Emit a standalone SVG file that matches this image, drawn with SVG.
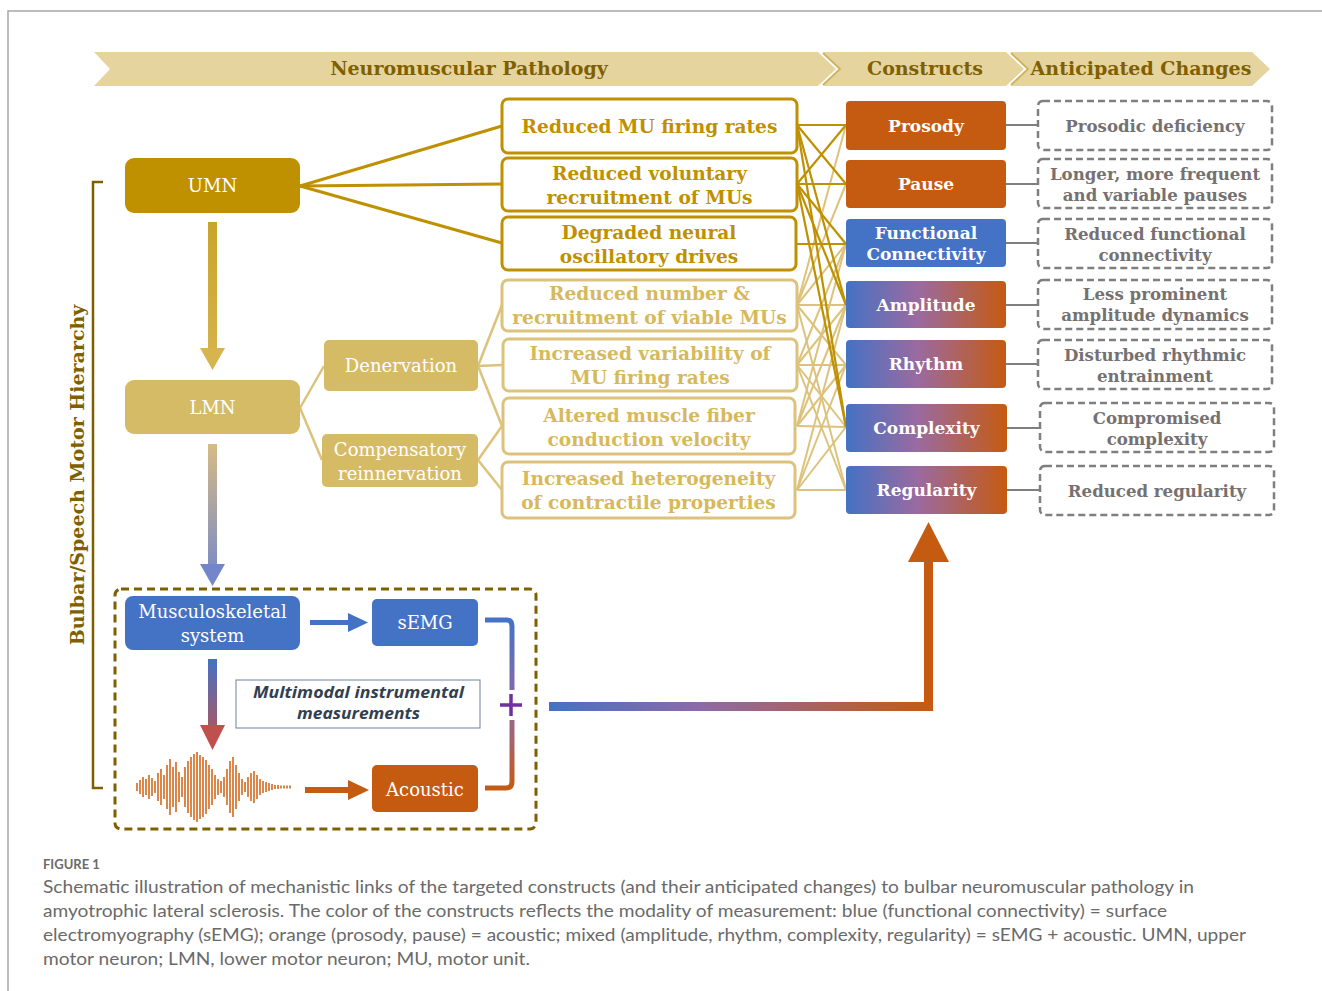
<svg xmlns="http://www.w3.org/2000/svg" width="1322" height="991" viewBox="0 0 1322 991">
<defs>
<style>
.hdr{font-family:"DejaVu Serif","Liberation Serif",serif;font-weight:bold;font-size:19px;fill:#7f6000;text-anchor:middle}
.pd{font-family:"DejaVu Serif","Liberation Serif",serif;font-weight:bold;font-size:18.6px;fill:#bf9000;text-anchor:middle}
.pl{font-family:"DejaVu Serif","Liberation Serif",serif;font-weight:bold;font-size:18.6px;fill:#d6b95c;text-anchor:middle}
.wr{font-family:"DejaVu Serif","Liberation Serif",serif;font-size:18px;fill:#fff;text-anchor:middle}
.cn{font-family:"DejaVu Serif","Liberation Serif",serif;font-weight:bold;font-size:17px;fill:#fff;text-anchor:middle}
.ac{font-family:"DejaVu Serif","Liberation Serif",serif;font-weight:bold;font-size:16.6px;fill:#767171;text-anchor:middle}
.boxd{fill:#fff;stroke:#bf9000;stroke-width:3}
.boxl{fill:#fff;stroke:#dcc27a;stroke-width:3}
.dash{fill:#fff;stroke:#7f7f7f;stroke-width:2.5;stroke-dasharray:7 4}
.dk{stroke:#bf9000;stroke-width:2.2;fill:none}
.lt{stroke:#dcc27a;stroke-width:2;fill:none}
.gy{stroke:#7f7f7f;stroke-width:2;fill:none}
.cap{font-family:Lato,"Open Sans","Liberation Sans",sans-serif;font-size:17px;fill:#6a6a6a}
.mm{font-family:"Open Sans","Noto Sans",sans-serif;font-weight:bold;font-style:italic;font-size:15.5px;fill:#333f50;text-anchor:middle}
</style>
<linearGradient id="mix" x1="0" y1="0" x2="1" y2="0">
<stop offset="0" stop-color="#4472c4"/><stop offset="0.45" stop-color="#9b6aa0"/><stop offset="1" stop-color="#c55a11"/>
</linearGradient>
<linearGradient id="bigArrow" gradientUnits="userSpaceOnUse" x1="549" y1="0" x2="930" y2="0">
<stop offset="0" stop-color="#4472c4"/><stop offset="0.4" stop-color="#8e6aa8"/><stop offset="1" stop-color="#c55a11"/>
</linearGradient>
<linearGradient id="pipe" gradientUnits="userSpaceOnUse" x1="0" y1="620" x2="0" y2="790">
<stop offset="0" stop-color="#4472c4"/><stop offset="0.5" stop-color="#8e6aa8"/><stop offset="1" stop-color="#c55a11"/>
</linearGradient>
<linearGradient id="downMix" gradientUnits="userSpaceOnUse" x1="0" y1="659" x2="0" y2="750">
<stop offset="0" stop-color="#4472c4"/><stop offset="1" stop-color="#c0504d"/>
</linearGradient>
<linearGradient id="downLmn" gradientUnits="userSpaceOnUse" x1="0" y1="444" x2="0" y2="586">
<stop offset="0" stop-color="#d6bb86"/><stop offset="1" stop-color="#7386cc"/>
</linearGradient>
<linearGradient id="downUmn" gradientUnits="userSpaceOnUse" x1="0" y1="222" x2="0" y2="370">
<stop offset="0" stop-color="#c9a42a"/><stop offset="1" stop-color="#d6b450"/>
</linearGradient>
</defs>

<rect width="1322" height="991" fill="#fff"/>
<path d="M8 991 V11 H1322" fill="none" stroke="#a6a6a6" stroke-width="1.5"/>

<g id="header">
<polygon points="94,52 818,52 836,69 818,86 94,86 110,69" fill="#e6d49f"/>
<polygon points="823,52 1006,52 1024,69 1006,86 823,86 841,69" fill="#e6d49f"/>
<polygon points="1011,52 1252,52 1270,69 1252,86 1011,86 1029,69" fill="#e6d49f"/>
<polyline points="823,53 840,69 823,85" fill="none" stroke="#cfb35a" stroke-width="2"/>
<polyline points="1011,53 1028,69 1011,85" fill="none" stroke="#cfb35a" stroke-width="2"/>
<text class="hdr" x="469" y="75">Neuromuscular Pathology</text>
<text class="hdr" x="925" y="75">Constructs</text>
<text class="hdr" x="1141" y="75">Anticipated Changes</text>
</g>

<g id="hierarchy-bracket">
<path d="M103 182 H93 V788 H103" fill="none" stroke="#7f6000" stroke-width="2.5"/>
<text transform="translate(84,475) rotate(-90)" class="hdr" x="0" y="0">Bulbar/Speech Motor Hierarchy</text>
</g>

<g id="connectors">
<line class="dk" x1="300" y1="186" x2="502" y2="126" style="stroke-width:3"/>
<line class="dk" x1="300" y1="186" x2="502" y2="184" style="stroke-width:3"/>
<line class="dk" x1="300" y1="186" x2="502" y2="243" style="stroke-width:3"/>
<line class="lt" x1="300" y1="408" x2="324" y2="366" style="stroke-width:2.5"/>
<line class="lt" x1="300" y1="408" x2="322" y2="460" style="stroke-width:2.5"/>
<line class="lt" x1="478" y1="366" x2="502" y2="305" style="stroke-width:2.5"/>
<line class="lt" x1="478" y1="366" x2="502" y2="365" style="stroke-width:2.5"/>
<line class="lt" x1="478" y1="366" x2="502" y2="426" style="stroke-width:2.5"/>
<line class="lt" x1="478" y1="460" x2="502" y2="426" style="stroke-width:2.5"/>
<line class="lt" x1="478" y1="460" x2="502" y2="490" style="stroke-width:2.5"/>
<line class="lt" x1="797" y1="305" x2="846" y2="125"/>
<line class="lt" x1="797" y1="305" x2="846" y2="184"/>
<line class="lt" x1="797" y1="305" x2="846" y2="244"/>
<line class="lt" x1="797" y1="305" x2="846" y2="305"/>
<line class="lt" x1="797" y1="305" x2="846" y2="365"/>
<line class="lt" x1="797" y1="305" x2="846" y2="490"/>
<line class="lt" x1="797" y1="365" x2="846" y2="244"/>
<line class="lt" x1="797" y1="365" x2="846" y2="305"/>
<line class="lt" x1="797" y1="365" x2="846" y2="365"/>
<line class="lt" x1="797" y1="365" x2="846" y2="427"/>
<line class="lt" x1="797" y1="365" x2="846" y2="490"/>
<line class="lt" x1="797" y1="426" x2="846" y2="244"/>
<line class="lt" x1="797" y1="426" x2="846" y2="305"/>
<line class="lt" x1="797" y1="426" x2="846" y2="365"/>
<line class="lt" x1="797" y1="426" x2="846" y2="427"/>
<line class="lt" x1="797" y1="490" x2="846" y2="305"/>
<line class="lt" x1="797" y1="490" x2="846" y2="365"/>
<line class="lt" x1="797" y1="490" x2="846" y2="427"/>
<line class="lt" x1="797" y1="490" x2="846" y2="490"/>
<line class="dk" x1="797" y1="125" x2="846" y2="125"/>
<line class="dk" x1="797" y1="125" x2="846" y2="184"/>
<line class="dk" x1="797" y1="125" x2="846" y2="305"/>
<line class="dk" x1="797" y1="125" x2="846" y2="427"/>
<line class="dk" x1="797" y1="184" x2="846" y2="125"/>
<line class="dk" x1="797" y1="184" x2="846" y2="184"/>
<line class="dk" x1="797" y1="184" x2="846" y2="244"/>
<line class="dk" x1="797" y1="184" x2="846" y2="305"/>
<line class="dk" x1="797" y1="184" x2="846" y2="427"/>
<line class="dk" x1="797" y1="244" x2="846" y2="244"/>
<line class="gy" x1="1006" y1="125" x2="1038" y2="125"/>
<line class="gy" x1="1006" y1="184" x2="1038" y2="184"/>
<line class="gy" x1="1006" y1="243" x2="1038" y2="243"/>
<line class="gy" x1="1006" y1="305" x2="1038" y2="305"/>
<line class="gy" x1="1006" y1="364" x2="1038" y2="364"/>
<line class="gy" x1="1006" y1="428" x2="1040" y2="428"/>
<line class="gy" x1="1006" y1="490" x2="1040" y2="490"/>
<rect x="208" y="222" width="9" height="128" fill="url(#downUmn)"/>
<polygon points="200,348 225,348 212.5,370" fill="#d6b450"/>
<rect x="208" y="444" width="9" height="122" fill="url(#downLmn)"/>
<polygon points="200,564 225,564 212.5,586" fill="#7386cc"/>
<rect x="310" y="620" width="40" height="5" fill="#4472c4"/>
<polygon points="348,613 368,622.5 348,632" fill="#4472c4"/>
<rect x="208" y="659" width="9" height="68" fill="url(#downMix)"/>
<polygon points="200,725 225,725 212.5,750" fill="#c0504d"/>
<rect x="305" y="787" width="45" height="6" fill="#c55a11"/>
<polygon points="348,780 369,790 348,800" fill="#c55a11"/>
<path d="M485 620 H507 Q512 620 512 626 V690 M512 720 V782 Q512 788 506 788 H485" fill="none" stroke="url(#pipe)" stroke-width="5"/>
<path d="M500 705 H522 M511 694 V716" stroke="#7030a0" stroke-width="3.5" fill="none"/>
<rect x="549" y="702" width="384" height="9" fill="url(#bigArrow)"/>
<rect x="924" y="558" width="9" height="153" fill="#c55a11"/>
<polygon points="908,562 928.5,522 949,562" fill="#c55a11"/>
</g>

<g id="node-umn"><rect x="125" y="158" width="175" height="55" rx="9" fill="#bf9000"/><text class="wr" x="212.5" y="192">UMN</text></g>
<g id="node-lmn"><rect x="125" y="380" width="175" height="54" rx="9" fill="#d6bb66"/><text class="wr" x="212.5" y="414">LMN</text></g>
<g id="node-denervation"><rect x="324" y="340" width="154" height="51" rx="5" fill="#d6bb66"/><text class="wr" x="401" y="372">Denervation</text></g>
<g id="node-compensatory"><rect x="322" y="434" width="156" height="53" rx="5" fill="#d6bb66"/><text class="wr" x="400" y="456">Compensatory</text><text class="wr" x="400" y="480">reinnervation</text></g>

<g id="node-p1"><rect class="boxd" x="502" y="99" width="295" height="54" rx="6"/><text class="pd" x="649.5" y="133">Reduced MU firing rates</text></g>
<g id="node-p2"><rect class="boxd" x="502" y="158" width="295" height="53" rx="6"/><text class="pd" x="649.5" y="180">Reduced voluntary</text><text class="pd" x="649.5" y="204">recruitment of MUs</text></g>
<g id="node-p3"><rect class="boxd" x="502" y="217" width="294" height="53" rx="6"/><text class="pd" x="649" y="239">Degraded neural</text><text class="pd" x="649" y="263">oscillatory drives</text></g>
<g id="node-p4"><rect class="boxl" x="502" y="280" width="295" height="51" rx="6"/><text class="pl" x="649.5" y="300">Reduced number &amp;</text><text class="pl" x="649.5" y="324">recruitment of viable MUs</text></g>
<g id="node-p5"><rect class="boxl" x="503" y="339" width="294" height="52" rx="6"/><text class="pl" x="650" y="360">Increased variability of</text><text class="pl" x="650" y="384">MU firing rates</text></g>
<g id="node-p6"><rect class="boxl" x="503" y="398" width="292" height="56" rx="6"/><text class="pl" x="649" y="422">Altered muscle fiber</text><text class="pl" x="649" y="446">conduction velocity</text></g>
<g id="node-p7"><rect class="boxl" x="502" y="462" width="293" height="56" rx="6"/><text class="pl" x="648.5" y="485">Increased heterogeneity</text><text class="pl" x="648.5" y="509">of contractile properties</text></g>

<g id="node-prosody"><rect x="846" y="101" width="160" height="49" rx="4" fill="#c55a11"/><text class="cn" x="926" y="132">Prosody</text></g>
<g id="node-pause"><rect x="846" y="160" width="160" height="48" rx="4" fill="#c55a11"/><text class="cn" x="926" y="190">Pause</text></g>
<g id="node-fc"><rect x="846" y="219" width="160" height="48" rx="4" fill="#4472c4"/><text class="cn" x="926" y="239">Functional</text><text class="cn" x="926" y="260">Connectivity</text></g>
<g id="node-amplitude"><rect x="846" y="281" width="160" height="47" rx="4" fill="url(#mix)"/><text class="cn" x="926" y="311">Amplitude</text></g>
<g id="node-rhythm"><rect x="846" y="340" width="160" height="48" rx="4" fill="url(#mix)"/><text class="cn" x="926" y="370">Rhythm</text></g>
<g id="node-complexity"><rect x="846" y="404" width="161" height="48" rx="4" fill="url(#mix)"/><text class="cn" x="926.5" y="434">Complexity</text></g>
<g id="node-regularity"><rect x="846" y="466" width="161" height="48" rx="4" fill="url(#mix)"/><text class="cn" x="926.5" y="496">Regularity</text></g>

<g id="node-c1"><rect class="dash" x="1038" y="101" width="234" height="49" rx="5"/><text class="ac" x="1155" y="132">Prosodic deficiency</text></g>
<g id="node-c2"><rect class="dash" x="1038" y="159" width="234" height="49" rx="5"/><text class="ac" x="1155" y="180">Longer, more frequent</text><text class="ac" x="1155" y="201">and variable pauses</text></g>
<g id="node-c3"><rect class="dash" x="1038" y="219" width="234" height="49" rx="5"/><text class="ac" x="1155" y="240">Reduced functional</text><text class="ac" x="1155" y="261">connectivity</text></g>
<g id="node-c4"><rect class="dash" x="1038" y="280" width="234" height="49" rx="5"/><text class="ac" x="1155" y="300">Less prominent</text><text class="ac" x="1155" y="321">amplitude dynamics</text></g>
<g id="node-c5"><rect class="dash" x="1038" y="340" width="234" height="49" rx="5"/><text class="ac" x="1155" y="361">Disturbed rhythmic</text><text class="ac" x="1155" y="382">entrainment</text></g>
<g id="node-c6"><rect class="dash" x="1040" y="403" width="234" height="49" rx="5"/><text class="ac" x="1157" y="424">Compromised</text><text class="ac" x="1157" y="445">complexity</text></g>
<g id="node-c7"><rect class="dash" x="1040" y="466" width="234" height="49" rx="5"/><text class="ac" x="1157" y="497">Reduced regularity</text></g>

<g id="measurement-box">
<rect x="115" y="589" width="421" height="240" rx="6" fill="none" stroke="#7f6000" stroke-width="3" stroke-dasharray="8 5"/>
</g>
<g id="node-musculoskeletal"><rect x="125" y="596" width="175" height="54" rx="8" fill="#4472c4"/><text class="wr" x="212.5" y="618">Musculoskeletal</text><text class="wr" x="212.5" y="642">system</text></g>
<g id="node-semg"><rect x="372" y="599" width="106" height="47" rx="5" fill="#4472c4"/><text class="wr" x="425" y="629">sEMG</text></g>
<g id="node-acoustic"><rect x="372" y="765" width="106" height="47" rx="5" fill="#c55a11"/><text class="wr" x="425" y="796">Acoustic</text></g>
<g id="node-multimodal"><rect x="236" y="680" width="244" height="48" fill="#fff" stroke="#8497b0" stroke-width="1.2"/>
<text class="mm" x="358.5" y="698" textLength="211" lengthAdjust="spacingAndGlyphs">Multimodal instrumental</text>
<text class="mm" x="358.5" y="719" textLength="123" lengthAdjust="spacingAndGlyphs">measurements</text></g>
<g id="waveform" stroke="#d2691e" stroke-width="1.6">
<line x1="137" y1="783" x2="137" y2="791"/><line x1="140" y1="780" x2="140" y2="794"/><line x1="143" y1="777" x2="143" y2="797"/><line x1="146" y1="779" x2="146" y2="795"/><line x1="149" y1="775" x2="149" y2="799"/><line x1="152" y1="778" x2="152" y2="796"/><line x1="155" y1="781" x2="155" y2="793"/><line x1="158" y1="773" x2="158" y2="801"/><line x1="161" y1="769" x2="161" y2="805"/><line x1="164" y1="775" x2="164" y2="799"/><line x1="167" y1="765" x2="167" y2="809"/><line x1="170" y1="759" x2="170" y2="815"/><line x1="173" y1="767" x2="173" y2="807"/><line x1="176" y1="762" x2="176" y2="812"/><line x1="179" y1="772" x2="179" y2="802"/><line x1="182" y1="777" x2="182" y2="797"/><line x1="185" y1="767" x2="185" y2="807"/><line x1="188" y1="761" x2="188" y2="813"/><line x1="191" y1="757" x2="191" y2="817"/><line x1="194" y1="754" x2="194" y2="820"/><line x1="197" y1="752" x2="197" y2="822"/><line x1="200" y1="755" x2="200" y2="819"/><line x1="203" y1="757" x2="203" y2="817"/><line x1="206" y1="760" x2="206" y2="814"/><line x1="209" y1="765" x2="209" y2="809"/><line x1="212" y1="769" x2="212" y2="805"/><line x1="215" y1="775" x2="215" y2="799"/><line x1="218" y1="779" x2="218" y2="795"/><line x1="221" y1="781" x2="221" y2="793"/><line x1="224" y1="777" x2="224" y2="797"/><line x1="227" y1="769" x2="227" y2="805"/><line x1="230" y1="761" x2="230" y2="813"/><line x1="233" y1="757" x2="233" y2="817"/><line x1="236" y1="765" x2="236" y2="809"/><line x1="239" y1="773" x2="239" y2="801"/><line x1="242" y1="779" x2="242" y2="795"/><line x1="245" y1="782" x2="245" y2="792"/><line x1="248" y1="777" x2="248" y2="797"/><line x1="251" y1="773" x2="251" y2="801"/><line x1="254" y1="771" x2="254" y2="803"/><line x1="257" y1="775" x2="257" y2="799"/><line x1="260" y1="779" x2="260" y2="795"/><line x1="263" y1="781" x2="263" y2="793"/><line x1="266" y1="782" x2="266" y2="792"/><line x1="269" y1="783" x2="269" y2="791"/><line x1="272" y1="784" x2="272" y2="790"/><line x1="275" y1="785" x2="275" y2="789"/><line x1="278" y1="785" x2="278" y2="789"/><line x1="281" y1="785.5" x2="281" y2="788.5"/><line x1="284" y1="785.5" x2="284" y2="788.5"/><line x1="287" y1="785.5" x2="287" y2="788.5"/><line x1="290" y1="785.5" x2="290" y2="788.5"/>
</g>

<g id="caption">
<text x="43" y="869" style="font-family:Lato,'Open Sans',sans-serif;font-size:13px;font-weight:bold;fill:#6b6b6b">FIGURE 1</text>
<text class="cap" x="43" y="893" textLength="1151" lengthAdjust="spacingAndGlyphs">Schematic illustration of mechanistic links of the targeted constructs (and their anticipated changes) to bulbar neuromuscular pathology in</text>
<text class="cap" x="43" y="917" textLength="1124" lengthAdjust="spacingAndGlyphs">amyotrophic lateral sclerosis. The color of the constructs reflects the modality of measurement: blue (functional connectivity) = surface</text>
<text class="cap" x="43" y="941" textLength="1203" lengthAdjust="spacingAndGlyphs">electromyography (sEMG); orange (prosody, pause) = acoustic; mixed (amplitude, rhythm, complexity, regularity) = sEMG + acoustic. UMN, upper</text>
<text class="cap" x="43" y="965" textLength="487" lengthAdjust="spacingAndGlyphs">motor neuron; LMN, lower motor neuron; MU, motor unit.</text>
</g>
</svg>
